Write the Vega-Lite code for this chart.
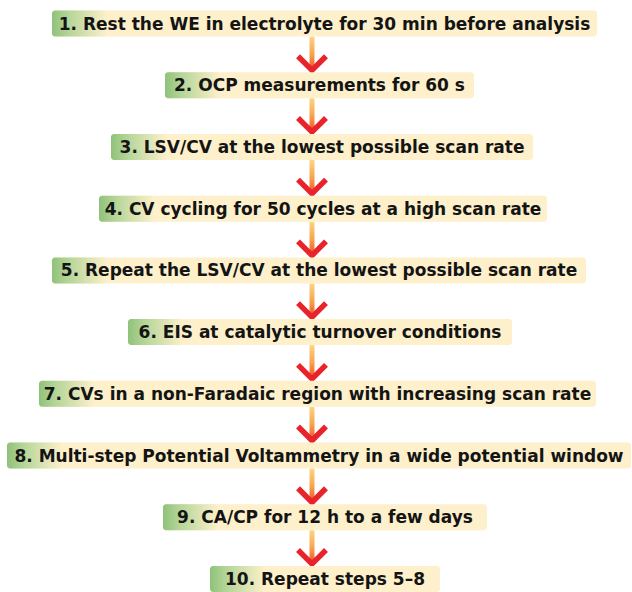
{
  "$schema": "https://vega.github.io/schema/vega-lite/v6.json",
  "width": 632,
  "height": 592,
  "autosize": {"type": "none"},
  "padding": 0,
  "background": "white",
  "config": {"view": {"stroke": null}},
  "datasets": {
    "steps": [
      {"step": 1, "label": "1. Rest the WE in electrolyte for 30 min before analysis", "x0": 52, "x1": 597},
      {"step": 2, "label": "2. OCP measurements for 60 s", "x0": 165, "x1": 474},
      {"step": 3, "label": "3. LSV/CV at the lowest possible scan rate", "x0": 111, "x1": 533},
      {"step": 4, "label": "4. CV cycling for 50 cycles at a high scan rate", "x0": 99, "x1": 547},
      {"step": 5, "label": "5. Repeat the LSV/CV at the lowest possible scan rate", "x0": 52, "x1": 586},
      {"step": 6, "label": "6. EIS at catalytic turnover conditions", "x0": 128, "x1": 512},
      {"step": 7, "label": "7. CVs in a non-Faradaic region with increasing scan rate", "x0": 39, "x1": 596},
      {"step": 8, "label": "8. Multi-step Potential Voltammetry in a wide potential window", "x0": 7, "x1": 631},
      {"step": 9, "label": "9. CA/CP for 12 h to a few days", "x0": 163, "x1": 487},
      {"step": 10, "label": "10. Repeat steps 5\u20138", "x0": 210, "x1": 440}
    ],
    "arrows": [
      {"from": 1, "to": 2, "x": 312},
      {"from": 2, "to": 3, "x": 312},
      {"from": 3, "to": 4, "x": 312},
      {"from": 4, "to": 5, "x": 312},
      {"from": 5, "to": 6, "x": 312},
      {"from": 6, "to": 7, "x": 312},
      {"from": 7, "to": 8, "x": 312},
      {"from": 8, "to": 9, "x": 312},
      {"from": 9, "to": 10, "x": 312}
    ]
  },
  "resolve": {"scale": {"x": "shared", "y": "shared"}},
  "layer": [
    {
      "data": {"name": "arrows"},
      "mark": {
        "type": "rect",
        "yOffset": 13,
        "y2Offset": -14,
        "xOffset": -2.5,
        "x2Offset": 2.5,
        "fill": {
          "gradient": "linear", "x1": 0, "y1": 0, "x2": 0, "y2": 1,
          "stops": [
            {"offset": 0, "color": "#fcd585"},
            {"offset": 0.5, "color": "#f8a54c"},
            {"offset": 1, "color": "#ee4a2a"}
          ]
        }
      },
      "encoding": {
        "x": {"field": "x", "type": "quantitative", "scale": {"domain": [0, 632], "zero": false, "nice": false}, "axis": null},
        "x2": {"field": "x"},
        "y": {"field": "from", "type": "quantitative", "scale": {"domain": [0.619, 10.211], "reverse": true, "zero": false, "nice": false}, "axis": null},
        "y2": {"field": "to"}
      }
    },
    {
      "data": {"name": "arrows"},
      "mark": {
        "type": "point",
        "shape": "M-1,-1L0,0L1,-1",
        "size": 784,
        "filled": false,
        "stroke": "#e8232a",
        "strokeWidth": 5.5,
        "strokeJoin": "miter",
        "strokeCap": "butt",
        "opacity": 1,
        "yOffset": -15
      },
      "encoding": {
        "x": {"field": "x", "type": "quantitative"},
        "y": {"field": "to", "type": "quantitative"}
      }
    },
    {
      "data": {"name": "steps"},
      "mark": {"type": "rect", "fill": "#fdf0cb", "cornerRadius": 3, "yOffset": -13, "y2Offset": 13},
      "encoding": {
        "x": {"field": "x0", "type": "quantitative"},
        "x2": {"field": "x1"},
        "y": {"field": "step", "type": "quantitative"},
        "y2": {"field": "step"}
      }
    },
    {
      "data": {"name": "steps"},
      "mark": {
        "type": "rect", "cornerRadius": 3, "yOffset": -13, "y2Offset": 13, "x2Offset": 55,
        "fill": {
          "gradient": "linear", "x1": 0, "y1": 0, "x2": 1, "y2": 0,
          "stops": [
            {"offset": 0, "color": "#8fc27a"},
            {"offset": 0.3, "color": "#b5d598"},
            {"offset": 1, "color": "#fdf0cb"}
          ]
        }
      },
      "encoding": {
        "x": {"field": "x0", "type": "quantitative"},
        "x2": {"field": "x0"},
        "y": {"field": "step", "type": "quantitative"},
        "y2": {"field": "step"}
      }
    },
    {
      "data": {"name": "steps"},
      "transform": [{"calculate": "(datum.x0 + datum.x1) / 2", "as": "xc"}],
      "mark": {"type": "text", "font": "DejaVu Sans", "fontWeight": "bold", "fontSize": 17, "fill": "#141414", "align": "center", "baseline": "middle", "dy": 1},
      "encoding": {
        "x": {"field": "xc", "type": "quantitative"},
        "y": {"field": "step", "type": "quantitative"},
        "text": {"field": "label"}
      }
    }
  ]
}
